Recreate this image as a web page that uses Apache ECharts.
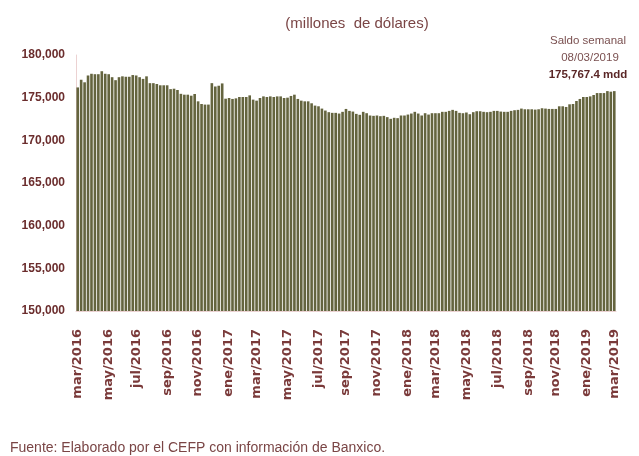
<!DOCTYPE html>
<html>
<head>
<meta charset="utf-8">
<script src="https://cdn.jsdelivr.net/npm/echarts@6/dist/echarts.min.js"></script>
</head>
<body style="margin:0;background:#fff">
<div id="chart" style="width:639px;height:456px"></div>
<script>
// saldo semanal de la reserva internacional, millones de dolares
const firstWeek = '2016-03-04';
const reserves = [
  176200, 177100, 176800, 177600, 177800, 177750, 177750, 178100, 177800, 177750,
  177400, 177050, 177400, 177500, 177450, 177450, 177650, 177600, 177400, 177200,
  177500, 176700, 176700, 176600, 176450, 176450, 176450, 176000, 176050, 175900,
  175450, 175350, 175350, 175230, 175430, 174570, 174260, 174190, 174190, 176700,
  176310, 176400, 176670, 174880, 174960, 174850, 174920, 175080, 175080, 175080,
  175270, 174770, 174650, 174960, 175150, 175080, 175150, 175080, 175150, 175150,
  174960, 175000, 175200, 175350, 174850, 174650, 174570, 174570, 174340, 174070,
  173990, 173720, 173490, 173300, 173220, 173220, 173140, 173340, 173680, 173450,
  173370, 173100, 172990, 173340, 173180, 172910, 172870, 172910, 172830, 172870,
  172720, 172520, 172640, 172600, 172910, 172910, 173020, 173140, 173340, 173140,
  172910, 173180, 173020, 173180, 173180, 173180, 173340, 173340, 173450, 173570,
  173450, 173220, 173180, 173260, 173060, 173300, 173410, 173410, 173340, 173300,
  173340, 173450, 173450, 173370, 173340, 173340, 173450, 173530, 173570, 173720,
  173640, 173640, 173640, 173600, 173640, 173760, 173720, 173680, 173680, 173680,
  173990, 173990, 173910, 174220, 174260, 174610, 174850, 175080, 175080, 175150,
  175310, 175540, 175540, 175540, 175770, 175700, 175767.4
];
const monthNames = ['ene', 'feb', 'mar', 'abr', 'may', 'jun', 'jul', 'ago', 'sep', 'oct', 'nov', 'dic'];
const yMin = 150000;
const yMax = 180000;
const yStep = 5000;
const noteLines = ['Saldo semanal', '08/03/2019', '175,767.4 mdd'];

// one category per week
const weeks = [];
let d = new Date(firstWeek + 'T00:00:00Z');
for (let i = 0; i < reserves.length; i++) {
  weeks.push(d.toISOString().slice(0, 10));
  d = new Date(d.getTime() + 7 * 864e5);
}

// label the first week of every odd month (mar, may, jul...)
const labelIdx = {};
weeks.forEach((w, i) => {
  const m = +w.slice(5, 7) - 1;
  const prev = i > 0 ? +weeks[i - 1].slice(5, 7) - 1 : -1;
  if (m % 2 === 0 && m !== prev) labelIdx[i] = true;
});

const maroon = '#6b2d2d';
const chart = echarts.init(document.getElementById('chart'));
chart.setOption({
  animation: false,
  backgroundColor: '#fff',
  title: {
    text: '(millones  de dólares)',
    left: 352,
    top: 11,
    textAlign: 'center',
    textStyle: {color: '#7a4545', fontSize: 15, fontWeight: 'normal', fontFamily: 'Liberation Sans'}
  },
  grid: {left: 76, right: 23, top: 55, bottom: 145},
  xAxis: {
    type: 'category',
    data: weeks,
    axisLine: {lineStyle: {color: '#ecd2d2'}},
    axisTick: {show: false},
    axisLabel: {
      rotate: 90,
      margin: 18,
      interval: (i) => !!labelIdx[i],
      formatter: (v) => monthNames[+v.slice(5, 7) - 1] + '/' + v.slice(0, 4),
      color: '#7a3a3a',
      fontSize: 13,
      fontWeight: 'bold',
      fontFamily: 'DejaVu Sans'
    }
  },
  yAxis: {
    type: 'value',
    min: yMin,
    max: yMax,
    interval: yStep,
    axisLine: {show: true, lineStyle: {color: '#ecd2d2'}},
    axisTick: {show: false},
    splitLine: {show: false},
    axisLabel: {
      margin: 11,
      color: maroon,
      fontSize: 12,
      fontWeight: 'bold',
      fontFamily: 'Liberation Sans',
      formatter: (v) => v.toLocaleString('en-US')
    }
  },
  series: [{
    type: 'bar',
    data: reserves,
    barCategoryGap: '24%',
    itemStyle: {color: '#64643e'}
  }],
  graphic: [
    {type: 'text', x: 588, y: 35, style: {text: noteLines[0], textAlign: 'center', fill: '#7a5050', fontSize: 11.5, fontFamily: 'Liberation Sans'}},
    {type: 'text', x: 590, y: 52, style: {text: noteLines[1], textAlign: 'center', fill: '#7a5050', fontSize: 11.5, fontFamily: 'Liberation Sans'}},
    {type: 'text', x: 588, y: 69, style: {text: noteLines[2], textAlign: 'center', fill: '#5a2626', fontSize: 11.5, fontWeight: 'bold', fontFamily: 'Liberation Sans'}},
    {type: 'text', x: 10, y: 441, style: {text: 'Fuente: Elaborado por el CEFP con información de Banxico.', fill: '#7a4545', fontSize: 14, fontFamily: 'Liberation Sans'}}
  ]
});
</script>
</body>
</html>
